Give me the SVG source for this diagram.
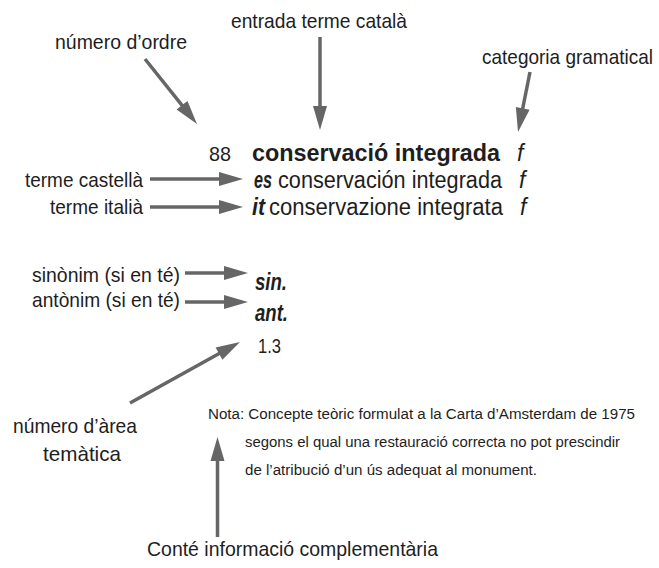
<svg xmlns="http://www.w3.org/2000/svg" width="659" height="568" viewBox="0 0 659 568">
<defs>
<style>
text{font-family:"Liberation Sans Narrow","Liberation Sans",Arial,sans-serif;fill:#1e1e1e;}
.lb{font-size:21px;}
.en{font-size:23px;}
.b{font-weight:bold;}
.i{font-style:italic;}
.nt{font-size:15.5px;}
.ar{stroke:#666;stroke-width:3.5;fill:none;marker-end:url(#ah);}
</style>
<marker id="ah" markerUnits="userSpaceOnUse" markerWidth="24" markerHeight="14" refX="10" refY="7" orient="auto" overflow="visible">
<path d="M0,0 L24,7 L0,14 z" fill="#666"/>
</marker>
</defs>
<rect width="659" height="568" fill="#fff"/>
<g id="connectors">
<line class="ar" x1="145" y1="59" x2="188.25" y2="113.06"/>
<line class="ar" x1="320" y1="37" x2="320" y2="116"/>
<line class="ar" x1="530" y1="72" x2="520.75" y2="118.27"/>
<line class="ar" x1="150" y1="179" x2="229" y2="179"/>
<line class="ar" x1="150" y1="207" x2="229" y2="207"/>
<line class="ar" x1="185" y1="273" x2="234" y2="273"/>
<line class="ar" x1="185" y1="302" x2="234" y2="302"/>
<line class="ar" x1="130" y1="403" x2="227.76" y2="348.79"/>
<line class="ar" x1="217.5" y1="537" x2="217.5" y2="451"/>
</g>
<g id="label-entrada"><text class="lb" x="231" y="28" textLength="176" lengthAdjust="spacingAndGlyphs">entrada terme català</text></g>
<g id="label-numero-ordre"><text class="lb" x="55" y="49" textLength="132" lengthAdjust="spacingAndGlyphs">número d’ordre</text></g>
<g id="label-categoria"><text class="lb" x="482" y="64" font-size="19" textLength="171" lengthAdjust="spacingAndGlyphs">categoria gramatical</text></g>
<g id="entry-ca">
<text class="lb" x="209" y="161" textLength="22" lengthAdjust="spacingAndGlyphs">88</text>
<text class="en b" x="252" y="161" textLength="248" lengthAdjust="spacingAndGlyphs">conservació integrada</text>
<text class="en i" x="517" y="161">f</text>
</g>
<g id="label-castella"><text class="lb" x="25" y="187" textLength="118" lengthAdjust="spacingAndGlyphs">terme castellà</text></g>
<g id="entry-es">
<text class="en b i" x="254" y="188" textLength="18" lengthAdjust="spacingAndGlyphs">es</text>
<text class="en" x="278" y="188" textLength="224" lengthAdjust="spacingAndGlyphs">conservación integrada</text>
<text class="en i" x="519" y="188">f</text>
</g>
<g id="label-italia"><text class="lb" x="50" y="214" textLength="93" lengthAdjust="spacingAndGlyphs">terme italià</text></g>
<g id="entry-it">
<text class="en b i" x="252" y="215" textLength="13" lengthAdjust="spacingAndGlyphs">it</text>
<text class="en" x="269" y="215" textLength="234" lengthAdjust="spacingAndGlyphs">conservazione integrata</text>
<text class="en i" x="520" y="215">f</text>
</g>
<g id="label-sinonim"><text class="lb" x="32" y="282" textLength="148" lengthAdjust="spacingAndGlyphs">sinònim (si en té)</text></g>
<g id="entry-sin"><text class="en b i" x="255" y="290" textLength="32" lengthAdjust="spacingAndGlyphs">sin.</text></g>
<g id="label-antonim"><text class="lb" x="32" y="307" textLength="148" lengthAdjust="spacingAndGlyphs">antònim (si en té)</text></g>
<g id="entry-ant"><text class="en b i" x="255" y="321" textLength="33" lengthAdjust="spacingAndGlyphs">ant.</text></g>
<g id="entry-area"><text class="lb" x="258" y="353" font-size="22" textLength="23" lengthAdjust="spacingAndGlyphs">1.3</text></g>
<g id="label-area">
<text class="lb" x="13" y="433" textLength="124" lengthAdjust="spacingAndGlyphs">número d’àrea</text>
<text class="lb" x="43" y="461" textLength="78" lengthAdjust="spacingAndGlyphs">temàtica</text>
</g>
<g id="entry-nota">
<text class="nt" x="208" y="419" textLength="427" lengthAdjust="spacingAndGlyphs">Nota: Concepte teòric formulat a la Carta d’Amsterdam de 1975</text>
<text class="nt" x="245" y="447" textLength="375" lengthAdjust="spacingAndGlyphs">segons el qual una restauració correcta no pot prescindir</text>
<text class="nt" x="245" y="475" textLength="292" lengthAdjust="spacingAndGlyphs">de l’atribució d’un ús adequat al monument.</text>
</g>
<g id="label-conte"><text class="lb" x="147" y="556" textLength="291" lengthAdjust="spacingAndGlyphs">Conté informació complementària</text></g>
</svg>
